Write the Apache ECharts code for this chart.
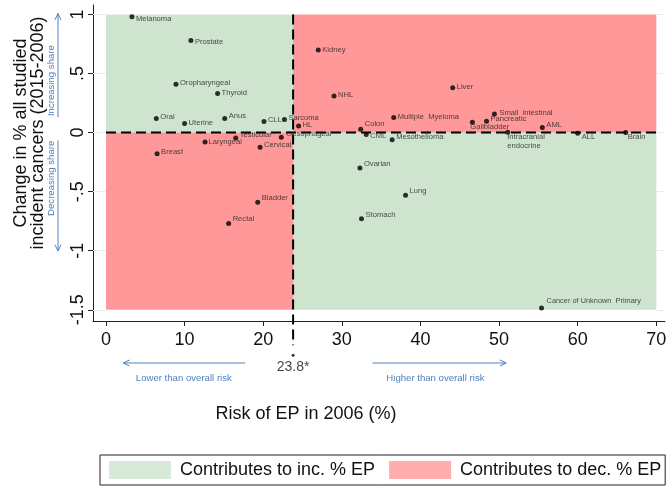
<!DOCTYPE html>
<html>
<head>
<meta charset="utf-8">
<script src="https://cdn.jsdelivr.net/npm/echarts@6/dist/echarts.min.js"></script>
<style>
html,body{margin:0;padding:0;background:#fff;}
#chart{width:670px;height:491px;}
</style>
</head>
<body>
<div id="chart"></div>
<script>
// ---------- data ----------
const cancers = ['Melanoma','Prostate','Oropharyngeal','Thyroid','Oral','Uterine','Anus','CLL','Sarcoma','HL',
  'Testicular','Oesophageal','Laryngeal','Cervical','Breast','Bladder','Rectal','Kidney','Liver','NHL',
  'Multiple  Myeloma','Small  intestinal','Pancreatic','Gallbladder','AML','Colon','Intracranial\nendocrine','ALL','Brain','CML',
  'Mesothelioma','Ovarian','Lung','Stomach','Cancer of Unknown  Primary'];
const riskEP2006 = [3.3,10.8,8.9,14.2,6.4,10.0,15.1,20.1,22.7,24.5,
  16.5,22.3,12.6,19.6,6.5,19.3,15.6,27.0,44.1,29.0,
  36.6,49.4,48.4,46.6,55.5,32.4,51.1,60.0,66.1,33.1,
  36.4,32.3,38.1,32.5,55.4];
const changeShare = [0.98,0.78,0.41,0.33,0.12,0.076,0.12,0.093,0.11,0.056,
  -0.046,-0.04,-0.08,-0.124,-0.18,-0.59,-0.77,0.70,0.38,0.31,
  0.127,0.157,0.096,0.087,0.042,0.028,0.003,-0.006,0.0,-0.017,
  -0.06,-0.30,-0.53,-0.73,-1.485];
const overallRisk = 23.8;
const overallRiskLabel = '23.8*';
const shadeX = [0, 70];
const shadeY = [-1.5, 1];
const xRange = [-1.65, 71.1];
const yRange = [-1.595, 1.08];
const xTicks = [0,10,20,30,40,50,60,70];
const yTicks = [-1.5,-1,-0.5,0,0.5,1];
const yTickLabels = ['-1.5','-1','-.5','0','.5','1'];
const legendNames = ['Contributes to inc. % EP','Contributes to dec. % EP'];

// ---------- styles ----------
const FONT = 'Liberation Sans, Arial, sans-serif';
const GREEN = '#cfe4cf';
const RED = '#ff9999';
const BLUE = '#4f81bd';
const labelOffsets = {
  'Melanoma':[0,2],'Prostate':[0,1],'Oropharyngeal':[0,-1],'Thyroid':[0,-1],'Oral':[0,-1.5],'Uterine':[0,-1],
  'Anus':[0,-2],'CLL':[0,-2],'Sarcoma':[0,-2],'HL':[0,-1],'Testicular':[0,-3.5],'Oesophageal':[1,-3],
  'Laryngeal':[-0.5,0],'Cervical':[0,-2],'Breast':[0,-2],'Bladder':[0,-4],'Rectal':[0,-4.5],'Kidney':[0,0],
  'Liver':[0,-1],'NHL':[0,-1],'Multiple  Myeloma':[0,-1],'Small  intestinal':[1,-1.5],'Pancreatic':[0,-2],
  'Gallbladder':[-6,5],'AML':[0,-2.5],'Colon':[0,-5],'Intracranial\nendocrine':[-4.5,9],'ALL':[0,4],
  'Brain':[-2,4],'CML':[0,1.7],'Mesothelioma':[0,-3],'Ovarian':[0,-4],'Lung':[0,-4],'Stomach':[0,-4],
  'Cancer of Unknown  Primary':[1,-7]
};
const labelFontSize = {'Cancer of Unknown  Primary':7.4};

const points = cancers.map((name, i) => ({
  name: name,
  value: [riskEP2006[i], changeShare[i]],
  label: {offset: labelOffsets[name] || [0,0], fontSize: labelFontSize[name] || 7.6}
}));

// faint gridlines, visible only outside the shaded block
const gridSegments = [];
yTicks.forEach(v => {
  gridSegments.push([{coord: [xRange[0], v]}, {coord: [shadeX[0], v]}]);
  gridSegments.push([{coord: [shadeX[1], v]}, {coord: [xRange[1], v]}]);
});

const chart = echarts.init(document.getElementById('chart'), null, {renderer: 'canvas'});

const option = {
  animation: false,
  backgroundColor: '#fff',
  textStyle: {fontFamily: FONT},
  grid: {left: 93, right: 5, top: 5, bottom: 170},
  xAxis: {
    type: 'value', min: xRange[0], max: xRange[1],
    axisLine: {show: true, onZero: false, lineStyle: {color: '#222', width: 1}},
    axisTick: {show: true, length: 5, customValues: xTicks, lineStyle: {color: '#222'}},
    axisLabel: {customValues: xTicks, fontSize: 18, color: '#111', margin: 10, fontFamily: FONT},
    splitLine: {show: false}
  },
  yAxis: {
    type: 'value', min: yRange[0], max: yRange[1],
    axisLine: {show: true, onZero: false, lineStyle: {color: '#222', width: 1}},
    axisTick: {show: true, length: 5, customValues: yTicks, lineStyle: {color: '#222'}},
    axisLabel: {
      customValues: yTicks, fontSize: 18, color: '#111', margin: 6, rotate: 90, fontFamily: FONT,
      formatter: v => { const k = yTicks.findIndex(t => Math.abs(t - v) < 1e-9); return k >= 0 ? yTickLabels[k] : ''; }
    },
    splitLine: {show: false}
  },
  legend: {
    data: legendNames, left: 100, top: 455, orient: 'horizontal',
    icon: 'rect', itemWidth: 62, itemHeight: 18, itemGap: 14,
    padding: [6, 4, 6, 9], borderColor: '#222', borderWidth: 1, borderRadius: 0,
    selectedMode: false,
    textStyle: {fontSize: 18, color: '#111', fontFamily: FONT, padding: [0, 0, 0, 4]}
  },
  series: [
    {
      type: 'line', data: [], z: 1, silent: true,
      markLine: {
        silent: true, symbol: 'none', label: {show: false},
        lineStyle: {color: '#e6eef0', type: 'solid', width: 1},
        data: gridSegments
      }
    },
    {
      name: legendNames[0], type: 'scatter', data: [], z: 2,
      itemStyle: {color: GREEN},
      markArea: {
        silent: true, label: {show: false},
        itemStyle: {color: GREEN, opacity: 1, borderWidth: 0},
        data: [
          [{coord: [shadeX[0], 0]}, {coord: [overallRisk, shadeY[1]]}],
          [{coord: [overallRisk, shadeY[0]]}, {coord: [shadeX[1], 0]}]
        ]
      }
    },
    {
      name: legendNames[1], type: 'scatter', data: [], z: 2,
      itemStyle: {color: RED},
      markArea: {
        silent: true, label: {show: false},
        itemStyle: {color: RED, opacity: 1, borderWidth: 0},
        data: [
          [{coord: [overallRisk, 0]}, {coord: [shadeX[1], shadeY[1]]}],
          [{coord: [shadeX[0], shadeY[0]]}, {coord: [overallRisk, 0]}]
        ]
      }
    },
    {
      type: 'line', z: 3, silent: true, symbol: 'none',
      data: [[shadeX[0], 0], [shadeX[1], 0]],
      lineStyle: {color: '#000', width: 2, type: [10, 5]}
    },
    {
      type: 'line', z: 3, silent: true, symbol: 'none', clip: false,
      data: [[overallRisk, shadeY[1]], [overallRisk, -1.80]],
      lineStyle: {color: '#000', width: 2, type: [10, 5]}
    },
    {
      type: 'scatter', z: 3, silent: true, clip: false, symbolSize: 3,
      itemStyle: {color: '#000'},
      data: [[overallRisk, -1.885]],
      label: {show: true, position: 'bottom', distance: 3, formatter: overallRiskLabel, fontSize: 14, color: '#111', fontFamily: FONT}
    },
    {
      type: 'scatter', z: 5, symbolSize: 5,
      itemStyle: {color: '#000'},
      data: points,
      label: {show: true, position: 'right', distance: 1.5, formatter: '{b}', color: '#222', fontFamily: FONT, lineHeight: 9.4}
    }
  ]
};
chart.setOption(option);

// ---------- annotations ----------
function px(x, y) { return chart.convertToPixel({gridIndex: 0}, [x, y]); }
function arrow(x1, y1, x2, y2) {
  const a = Math.atan2(y2 - y1, x2 - x1), L = 7, th = 0.45;
  return [
    {type: 'line', shape: {x1: x1, y1: y1, x2: x2, y2: y2}, style: {stroke: BLUE, lineWidth: 1}},
    {type: 'polyline', shape: {points: [
      [x2 - L * Math.cos(a - th), y2 - L * Math.sin(a - th)], [x2, y2],
      [x2 - L * Math.cos(a + th), y2 - L * Math.sin(a + th)]]}, style: {stroke: BLUE, lineWidth: 1, fill: null}}
  ];
}
const g = [];
const yArrowX = 58;
const upA = px(0, 0.13)[1], upB = px(0, 1.008)[1];
const dnA = px(0, -0.066)[1], dnB = px(0, -1.003)[1];
g.push(...arrow(yArrowX, upA, yArrowX, upB));
g.push(...arrow(yArrowX, dnA, yArrowX, dnB));
g.push({type: 'text', x: 51, y: px(0, 0.44)[1], rotation: Math.PI / 2,
  style: {text: 'Increasing share', fontSize: 9.6, fontFamily: FONT, fill: BLUE, textAlign: 'center', textVerticalAlign: 'middle'}});
g.push({type: 'text', x: 51, y: px(0, -0.387)[1], rotation: Math.PI / 2,
  style: {text: 'Decreasing share', fontSize: 9.6, fontFamily: FONT, fill: BLUE, textAlign: 'center', textVerticalAlign: 'middle'}});
const bY = 363;
g.push(...arrow(px(17.7, 0)[0], bY, px(2.2, 0)[0], bY));
g.push(...arrow(px(33.9, 0)[0], bY, px(50.9, 0)[0], bY));
g.push({type: 'text', x: px(9.9, 0)[0], y: 378,
  style: {text: 'Lower than overall risk', fontSize: 9.6, fontFamily: FONT, fill: BLUE, textAlign: 'center', textVerticalAlign: 'middle'}});
g.push({type: 'text', x: px(41.9, 0)[0], y: 378,
  style: {text: 'Higher than overall risk', fontSize: 9.6, fontFamily: FONT, fill: BLUE, textAlign: 'center', textVerticalAlign: 'middle'}});
// axis titles
g.push({type: 'text', x: 306, y: 414,
  style: {text: 'Risk of EP in 2006 (%)', fontSize: 18, fontFamily: FONT, fill: '#111', textAlign: 'center', textVerticalAlign: 'middle'}});
g.push({type: 'text', x: 21, y: 133, rotation: Math.PI / 2,
  style: {text: 'Change in % all studied', fontSize: 18, fontFamily: FONT, fill: '#111', textAlign: 'center', textVerticalAlign: 'middle'}});
g.push({type: 'text', x: 38, y: 133, rotation: Math.PI / 2,
  style: {text: 'incident cancers (2015-2006)', fontSize: 18, fontFamily: FONT, fill: '#111', textAlign: 'center', textVerticalAlign: 'middle'}});
chart.setOption({graphic: g});
</script>
</body>
</html>
